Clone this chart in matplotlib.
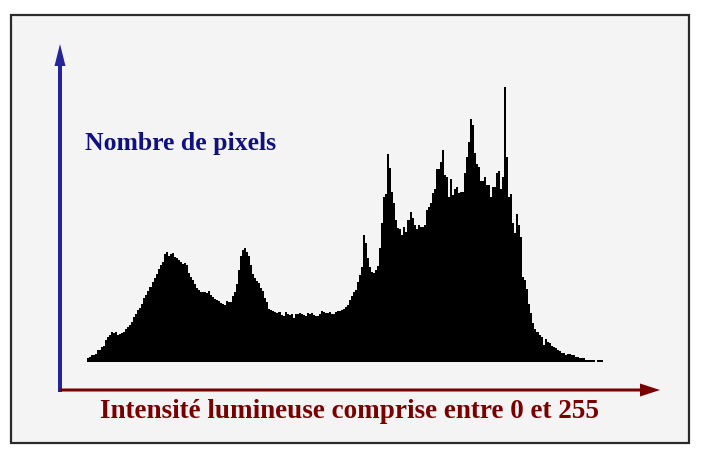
import matplotlib
matplotlib.use("Agg")
import matplotlib.pyplot as plt
from matplotlib.patches import Rectangle, FancyArrow
import numpy as np

# Histogram values (number of pixels per intensity level, in arbitrary units)
counts = [
    4, 5, 7, 7, 8, 12, 12, 15, 16, 22, 25, 27, 30, 29, 30, 27, 28, 29, 30, 33,
    35, 37, 40, 45, 48, 52, 54, 58, 64, 67, 71, 75, 80, 84, 88, 93, 97, 100, 108, 110,
    106, 108, 109, 105, 104, 102, 100, 98, 99, 97, 89, 85, 82, 78, 74, 72, 70, 70, 70, 69,
    71, 67, 65, 63, 62, 61, 59, 58, 57, 61, 60, 60, 66, 70, 78, 92, 106, 112, 114, 110,
    106, 97, 88, 84, 81, 79, 74, 71, 64, 60, 53, 52, 51, 50, 49, 50, 47, 46, 50, 48,
    47, 48, 44, 48, 48, 49, 48, 47, 46, 49, 48, 49, 47, 46, 46, 48, 51, 50, 49, 49,
    50, 48, 48, 50, 51, 51, 52, 53, 55, 57, 62, 66, 70, 72, 80, 87, 95, 127, 119, 104,
    95, 90, 89, 92, 96, 114, 139, 165, 168, 208, 194, 170, 159, 142, 134, 133, 127, 135, 130, 142,
    150, 144, 137, 133, 137, 135, 135, 137, 152, 155, 159, 169, 173, 193, 193, 200, 212, 187, 185, 165,
    183, 167, 173, 175, 169, 170, 170, 189, 205, 220, 243, 237, 209, 198, 195, 181, 181, 185, 177, 177,
    165, 175, 175, 189, 191, 173, 185, 275, 205, 165, 168, 139, 129, 148, 137, 125, 85, 82, 73, 58,
    49, 39, 33, 30, 27, 25, 17, 23, 20, 19, 16, 15, 14, 12, 11, 9, 9, 7, 8, 8,
    7, 7, 5, 5, 4, 4, 4, 2, 2, 2, 2, 2, 0, 2, 2, 2,
]
levels = np.arange(len(counts))

y_label = "Nombre de pixels"
x_label = "Intensité lumineuse comprise entre 0 et 255"

W, H = 711, 461
fig = plt.figure(figsize=(W / 100, H / 100), dpi=100)
fig.patch.set_facecolor("white")

def fx(px):
    return px / W

def fy(py):
    return 1 - py / H

# outer framed box
fig.patches.append(Rectangle((fx(11), fy(443)), fx(678), 428 / H, transform=fig.transFigure,
                             facecolor="#f4f4f4", edgecolor="#2a2a2a", linewidth=1.6, zorder=-5))

# histogram axes
ax = fig.add_axes([fx(87), fy(362), fx(603 - 87), (362 - 80) / H], zorder=2)
ax.bar(levels, counts, width=1.0, align="edge", color="black", linewidth=0)
ax.set_xlim(0, len(counts))
ax.set_ylim(0, 282)
ax.axis("off")
ax.patch.set_alpha(0)

# axis arrows (decorations, figure pixel coordinates)
blue = "#25259a"
red = "#7a0000"
fig.patches.append(FancyArrow(fx(60), fy(392), 0, fy(66) - fy(392),
                              width=2.6 / H, head_width=11 / W, head_length=22 / H,
                              length_includes_head=False, transform=fig.transFigure,
                              color=blue, linewidth=0, zorder=3))
fig.patches.append(FancyArrow(fx(59), fy(390), fx(640 - 59), 0,
                              width=3.0 / H, head_width=13 / H, head_length=20 / W,
                              length_includes_head=False, transform=fig.transFigure,
                              color=red, linewidth=0, zorder=3))

fig.text(fx(85), fy(143), y_label, color="#101080", fontsize=18.5, fontweight="bold",
         family="Liberation Serif", ha="left", va="center")
fig.text(fx(349), fy(411), x_label, color="#7a0000", fontsize=19.5, fontweight="bold",
         family="Liberation Serif", ha="center", va="center")

fig.savefig("out.png", dpi=100, facecolor="white")
